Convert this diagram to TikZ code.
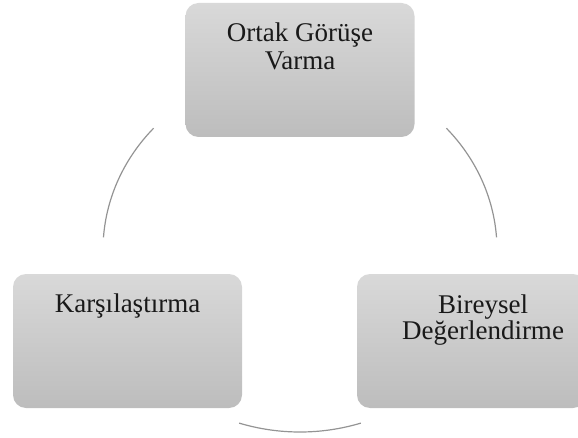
\documentclass[tikz,border=0pt]{standalone}
\usepackage{fontspec}
\setmainfont{Liberation Serif}
\usetikzlibrary{positioning}

\begin{document}
\begin{tikzpicture}[x=1pt,y=1pt,
		box/.style={rectangle, rounded corners=13pt, minimum width=229pt, minimum height=134pt, top color=black!15, bottom color=black!26},
		lbl/.style={inner sep=0pt, align=center, font=\fontsize{27}{28}\selectfont, text=black!90},
		ring/.style={draw=black!42, line width=1.2pt}]
		\useasboundingbox (0,0) rectangle (578,437);
		\clip (0,0) rectangle (578,437);
		\node[box] (gorus) at (300,367) {};
		\node[box] (karsi) at (127.5,96) {};
		\node[box] (bireysel) at (471.5,96) {};
		\node[lbl] (gorusText) [below=20pt of gorus.north] {Ortak Görüşe\\Varma};
		\node[lbl] (karsiText) [below=20pt of karsi.north] {Karşılaştırma};
		\node[lbl] (bireyselText) [below=21pt of bireysel.north, xshift=11.5pt] {Bireysel\\[-2pt]Değerlendirme};
		\coordinate (c) at (300,187);
		\draw[ring] (c) ++(138:197 and 182) arc[start angle=138, end angle=176, x radius=197, y radius=182];
		\draw[ring] (c) ++(42:197 and 182) arc[start angle=42, end angle=4, x radius=197, y radius=182];
		\draw[ring] (c) ++(252:197 and 182) arc[start angle=252, end angle=288, x radius=197, y radius=182];
	\end{tikzpicture}
\end{document}
